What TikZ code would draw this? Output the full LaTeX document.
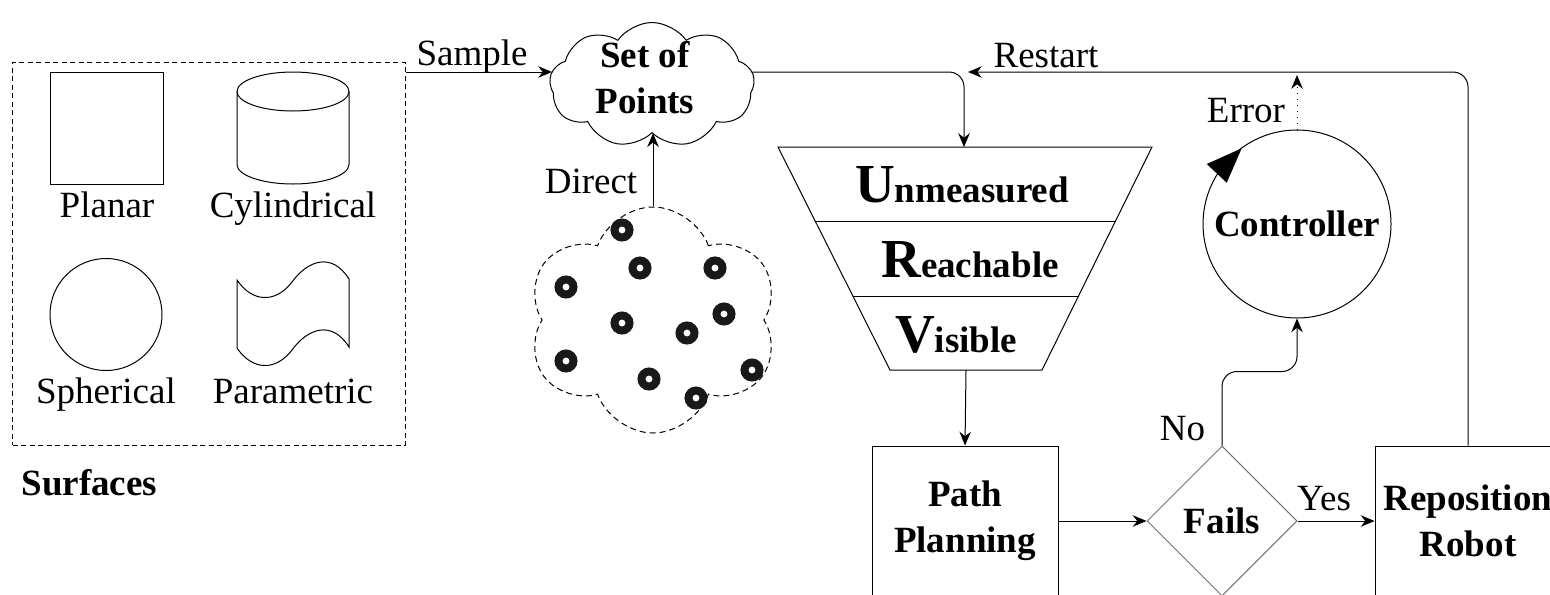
\documentclass[tikz,border=0pt]{standalone}
\usepackage{fontspec}
\newfontfamily\drawfont{Liberation Serif}
\usetikzlibrary{arrows.meta,shapes.geometric,shapes.symbols}

\newcommand{\capsym}[1]{{\fontsize{22}{24}\selectfont #1}}

\tikzset{
  every node/.style={font=\drawfont\fontsize{14.8}{18.4}\selectfont},
  bold/.style={font=\drawfont\fontsize{14.8}{18.4}\selectfont\bfseries},
  arr/.style={-{Stealth[length=5.5pt,width=4.6pt]}},
  blk/.style={draw, bold, minimum width=74.4pt, minimum height=60pt, align=center},
  ring/.style={line width=3.2pt, black!90},
}

\begin{document}
\begin{tikzpicture}[x=0.4pt, y=-0.4pt]
    \useasboundingbox (0,0) rectangle (1550,594);
    \clip (0,0) rectangle (1550,594);

    % surfaces
    \node [draw, dash pattern=on 2pt off 1.4pt, minimum width=156.8pt, minimum height=153.2pt] (surf) at (209,253.5) {};
    \draw (50,72) rectangle (163,184);
    \draw (293,91.5) ellipse [x radius=56, y radius=19.5];
    \draw (237,91.5) -- (237,164.5) arc [start angle=180, end angle=0, x radius=56, y radius=19.5] -- (349,91.5);
    \draw (106,314.5) circle [radius=56];
    \draw (237,280) .. controls (252,302) and (275,304) .. (292,282) .. controls (308,260) and (332,252) .. (349,279)
        -- (349,347) .. controls (332,320) and (308,328) .. (292,350) .. controls (275,372) and (252,370) .. (237,348) -- cycle;
    \node [anchor=base] (planar) at (107,217) {Planar};
    \node [anchor=base] (cyl) at (293,217) {Cylindrical};
    \node [anchor=base] (sph) at (106,403) {Spherical};
    \node [anchor=base] (param) at (293,403) {Parametric};
    \node [anchor=base west, bold, inner sep=0pt] (surf-lbl) at (21,495) {Surfaces};

    % point sets
    \node [cloud, draw, cloud puffs=9, cloud puff arc=110, cloud ignores aspect, minimum width=82pt, minimum height=50pt] (sop) at (652,85) {};
    \node [bold, align=center] (sop-txt) at (645,78) {Set of\\Points};
    \node [cloud, draw, dash pattern=on 2.4pt off 1.6pt, cloud puffs=6, cloud puff arc=140, cloud ignores aspect, minimum width=100.8pt, minimum height=90.4pt] (pts) at (653,320) {};
    \foreach \p in {(622,230),(640,268),(715,268),(566,287),(622,323),(724,314),(687,333),(566,361),(649,379),(752,370),(696,398)}
        \draw [ring] \p circle [radius=7.5];

    % funnel
    \coordinate (fun-top) at (964,147);
    \coordinate (fun-bot) at (966,370);
    \draw (778,147) -- (1152,147) -- (1042,370) -- (890,370) -- cycle;
    \draw (815,221) -- (1115.5,221);
    \draw (853,296) -- (1078.5,296);
    \node [anchor=base, bold] (unm) at (962,202) {\capsym{U}nmeasured};
    \node [anchor=base, bold] (rch) at (970,277) {\capsym{R}eachable};
    \node [anchor=base, bold] (vis) at (956,352) {\capsym{V}isible};

    % blocks
    \node [blk] (path) at (965,521) {Path\\Planning};
    \node [diamond, draw=black!55, bold, minimum width=60pt, minimum height=60pt, inner sep=0pt] (fails) at (1222,521) {Fails};
    \node [blk] (repo) at (1468,521) {Reposition\\Robot};
    \node [circle, draw, bold, minimum size=75.2pt, inner sep=0pt] (ctrl) at (1297,224) {Controller};
    \fill (1241.7,148.3) -- (1206.7,164) -- (1226.7,182.7) -- cycle;

    % connectors
    \coordinate (sop-in) at (552,72);
    \coordinate (sop-out) at (752,72);
    \coordinate (rst-end) at (968,72);
    \coordinate (err-end) at (1297,75);
    \draw [arr] (surf.east |- sop-in) -- (sop-in);
    \node [anchor=base] (smp) at (472,65) {Sample};
    \draw [arr] (pts.north) -- (pts.north |- sop.south);
    \node [anchor=base] (dir) at (591,193) {Direct};
    \draw [arr, rounded corners=6pt] (sop-out) -| (fun-top);
    \draw [arr] (fun-bot) -- (path.north);
    \draw [arr] (path.east) -- (fails.west);
    \draw [arr] (fails.east) -- (repo.west);
    \node [anchor=base] (yes) at (1324,510) {Yes};
    \draw [arr, rounded corners=6pt] (fails.north) -- ++(0,-74) -| (ctrl.south);
    \node [anchor=base east] (no) at (1214,440) {No};
    \draw [arr, rounded corners=6pt] (repo.north) |- (rst-end);
    \node [anchor=base] (rst) at (1046,67) {Restart};
    \draw [arr, dotted] (ctrl.north) -- (err-end);
    \node [anchor=base] (err) at (1246,122) {Error};
\end{tikzpicture}
\end{document}
